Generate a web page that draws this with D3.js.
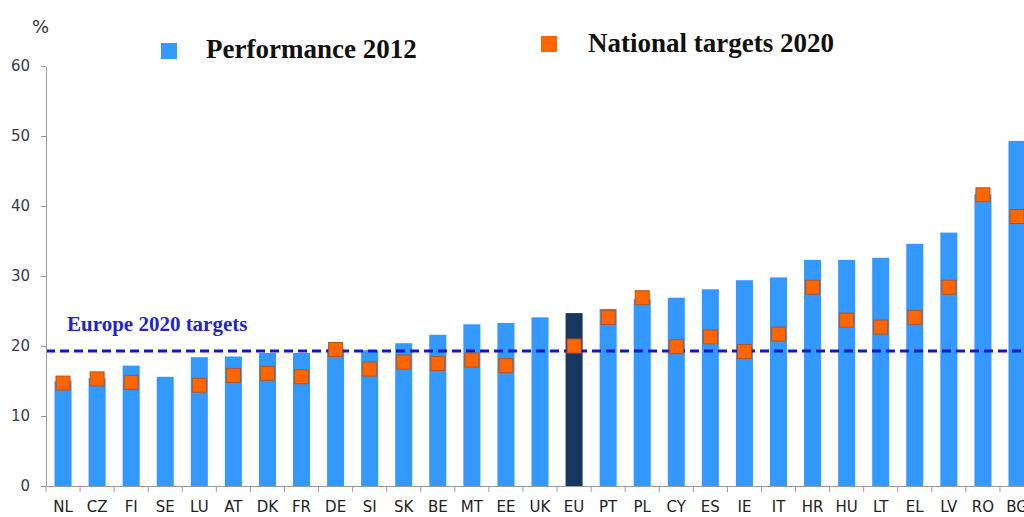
<!DOCTYPE html>
<html>
<head>
<meta charset="utf-8">
<script src="https://cdn.jsdelivr.net/npm/d3@7"></script>
<style>
  body { margin: 0; background: #fff; }
  svg { display: block; }
</style>
</head>
<body>
<script>
// categories and values
var countries = ["NL", "CZ", "FI", "SE", "LU", "AT", "DK", "FR", "DE", "SI", "SK", "BE", "MT", "EE", "UK",
                 "EU", "PT", "PL", "CY", "ES", "IE", "IT", "HR", "HU", "LT", "EL", "LV", "RO", "BG"];
var performance2012 = [15.0, 15.4, 17.2, 15.6, 18.4, 18.5, 19.0, 19.0, 19.6, 19.4, 20.4, 21.6, 23.1, 23.3, 24.1,
                       24.7, 25.3, 26.7, 26.9, 28.1, 29.4, 29.8, 32.3, 32.3, 32.6, 34.6, 36.2, 41.7, 49.3];
var targets2020 = [14.7, 15.3, 14.8, null, 14.4, 15.8, 16.1, 15.6, 19.5, 16.7, 17.7, 17.5, 18.0, 17.2, null,
                   20.0, 24.1, 26.9, 19.9, 21.3, 19.2, 21.7, 28.4, 23.7, 22.7, 24.1, 28.4, 41.6, 38.5];
var europeTarget = 19.3;
var yTicks = [0, 10, 20, 30, 40, 50, 60];

var width = 1024, height = 517;
var x0 = 46, step = 34.07;
var y0 = 486, yTop = 66;

var svg = d3.select("body").append("svg")
    .attr("width", width)
    .attr("height", height);

var xScale = d3.scaleBand()
    .domain(countries)
    .range([x0, x0 + step * countries.length])
    .paddingInner(0.5)
    .paddingOuter(0.25);

var yScale = d3.scaleLinear()
    .domain([0, 60])
    .range([y0, yTop]);

// bars
svg.selectAll("rect.bar")
    .data(countries)
    .enter()
    .append("rect")
    .attr("class", "bar")
    .attr("x", function(d) { return xScale(d); })
    .attr("y", function(d, i) { return yScale(performance2012[i]); })
    .attr("width", xScale.bandwidth())
    .attr("height", function(d, i) { return y0 - yScale(performance2012[i]); })
    .attr("fill", function(d) { return d == "EU" ? "#17375e" : "#3399ff"; });

// Europe 2020 target line
svg.append("line")
    .attr("x1", x0)
    .attr("x2", width)
    .attr("y1", yScale(europeTarget))
    .attr("y2", yScale(europeTarget))
    .attr("stroke", "#1414c8")
    .attr("stroke-width", 3)
    .attr("stroke-dasharray", "9,5");

svg.append("text")
    .attr("x", 67)
    .attr("y", 331)
    .attr("font-family", "'Liberation Serif', serif")
    .attr("font-weight", "bold")
    .attr("font-size", 21)
    .attr("fill", "#2424c8")
    .text("Europe 2020 targets");

// national targets
var mk = 14;
svg.selectAll("rect.target")
    .data(countries.filter(function(d, i) { return targets2020[i] != null; }))
    .enter()
    .append("rect")
    .attr("class", "target")
    .attr("x", function(d) { return xScale(d) + xScale.bandwidth() / 2 - mk / 2; })
    .attr("y", function(d) { return yScale(targets2020[countries.indexOf(d)]) - mk / 2; })
    .attr("width", mk)
    .attr("height", mk)
    .attr("fill", "#ff6600")
    .attr("stroke", "#b8501e")
    .attr("stroke-width", 1);

// y axis
var yAxis = svg.append("g")
    .attr("transform", "translate(" + x0 + ",0)")
    .call(d3.axisLeft(yScale).tickValues(yTicks).tickSize(5).tickSizeOuter(0).tickPadding(11));
yAxis.select(".domain").attr("stroke", "#999");
yAxis.selectAll(".tick line").attr("stroke", "#999");
yAxis.selectAll(".tick text")
    .attr("font-family", "'DejaVu Sans', sans-serif")
    .attr("font-size", 15)
    .attr("fill", "#3a3a4a");

// x axis
var xAxis = svg.append("g")
    .attr("transform", "translate(0," + y0 + ")")
    .call(d3.axisBottom(xScale).tickSize(0).tickSizeOuter(0).tickPadding(15));
xAxis.select(".domain").attr("stroke", "#999");
xAxis.selectAll(".tick text")
    .attr("font-family", "'DejaVu Sans', sans-serif")
    .attr("font-size", 15)
    .attr("fill", "#222");

// tick marks between categories
xAxis.selectAll("line.sep")
    .data(countries)
    .enter()
    .append("line")
    .attr("class", "sep")
    .attr("x1", function(d) { return xScale(d) - xScale.step() * 0.25; })
    .attr("x2", function(d) { return xScale(d) - xScale.step() * 0.25; })
    .attr("y1", 0)
    .attr("y2", 6)
    .attr("stroke", "#999");

// % label
svg.append("text")
    .attr("x", 32)
    .attr("y", 33)
    .attr("font-family", "'DejaVu Sans', sans-serif")
    .attr("font-size", 18)
    .attr("fill", "#333")
    .text("%");

// legend
svg.append("rect")
    .attr("x", 161).attr("y", 43)
    .attr("width", 16).attr("height", 16)
    .attr("fill", "#3399ff");
svg.append("text")
    .attr("x", 206).attr("y", 58)
    .attr("font-family", "'Liberation Serif', serif")
    .attr("font-weight", "bold")
    .attr("font-size", 27)
    .attr("fill", "#111")
    .text("Performance 2012");

svg.append("rect")
    .attr("x", 541).attr("y", 36)
    .attr("width", 16).attr("height", 16)
    .attr("fill", "#ff6600");
svg.append("text")
    .attr("x", 588).attr("y", 52)
    .attr("font-family", "'Liberation Serif', serif")
    .attr("font-weight", "bold")
    .attr("font-size", 27)
    .attr("fill", "#111")
    .text("National targets 2020");
</script>
</body>
</html>
